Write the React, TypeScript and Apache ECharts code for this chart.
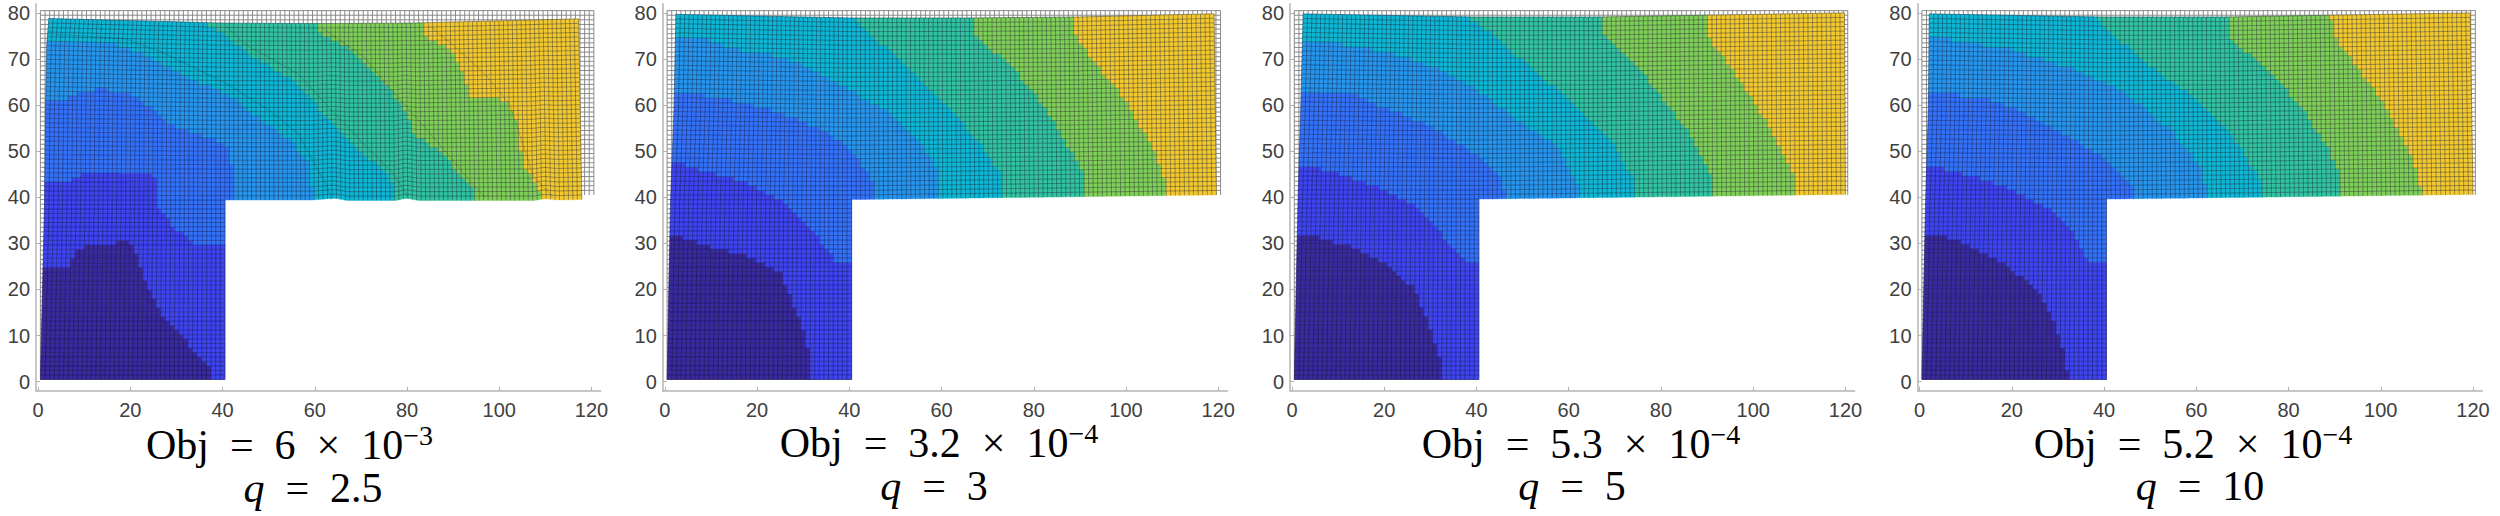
import React, { useEffect, useRef } from "react";
import * as echarts from "echarts";

type P = number[][];

const xTicks = [0, 20, 40, 60, 80, 100, 120];
const yTicks = [0, 10, 20, 30, 40, 50, 60, 70, 80];
const bandColors = ["#3a2aa0", "#3e44f2", "#3272fb", "#2596ee", "#0db8d4", "#30c4a0", "#80d058", "#f2ca30"];

const objLabels = ["Obj  =  6  ×  10", "Obj  =  3.2  ×  10", "Obj  =  5.3  ×  10", "Obj  =  5.2  ×  10"];
const expLabels = ["−3", "−4", "−4", "−4"];
const qLabels = ["  =  2.5", "  =  3", "  =  5", "  =  10"];

// contour boundaries (lower-left side of each), one list per level
const q25Bounds: P[] = [
  [[-5, 24.6], [6.6, 24.6], [8.8, 29.1], [14.6, 29.6], [19.6, 30.9], [21.4, 27.1], [23.6, 20.6], [26.3, 15.5], [31.2, 9.8], [37.5, 2.9], [38, 0]],
  [[-5, 43.1], [6.1, 43.1], [9.2, 45], [16.9, 45.5], [24.1, 45.5], [25.9, 43.7], [26.3, 37.9], [29.4, 33.6], [33.9, 30.1], [45, 30]],
  [[-5, 60.8], [5.2, 61.1], [8.8, 62.5], [13.3, 63.6], [18.7, 62.9], [25.9, 58.9], [27.6, 56], [34.8, 53.8], [41.6, 50.9], [42.7, 39.4]],
  [[-5, 74.2], [12.4, 74.1], [17.8, 73], [22.3, 71.2], [31.2, 66.5], [42, 61.8], [45.6, 58.9], [54.6, 52.4], [59.1, 47.3], [59.5, 39.4]],
  [[35.7, 90], [35.7, 78], [40.2, 75.5], [45.6, 71.2], [56.4, 64.7], [61.8, 58.2], [68, 51.7], [76.6, 44.4], [77.5, 39.4]],
  [[60.4, 90], [60.9, 75.5], [66.2, 73.3], [70.7, 69], [76.1, 63.9], [80.2, 58.2], [81.5, 53.8], [86.9, 50.2], [94.1, 42.3], [95, 39.4]],
  [[83.5, 90], [83.8, 75.1], [86.9, 73.7], [90.5, 70.4], [92.3, 66.8], [93.6, 62.1], [101.3, 61.1], [104.4, 55.3], [104.8, 47.3], [108.4, 42.3], [109.5, 39.4]],
];
const q3Bounds: P[] = [
  [[-5, 32.5], [3.8, 31.4], [10, 29.3], [18.1, 27.1], [25.3, 23.5], [27.6, 17.7], [29.8, 11.9], [31.6, 5.4], [31.8, 0]],
  [[-5, 48.2], [4.7, 47], [12.7, 44.4], [17.2, 43.7], [26.2, 38.7], [31.6, 33.6], [37, 26], [45, 26]],
  [[-5, 64.1], [6.5, 62.5], [13.6, 61.1], [20.8, 59.6], [26.2, 57.8], [35.2, 54.2], [40.6, 50.2], [45.1, 43.7], [45.8, 39.5]],
  [[-5, 75.1], [8.3, 74.4], [16.3, 71.9], [26.2, 70.4], [37, 65], [47.8, 58.9], [54.9, 52.4], [59.4, 45.9], [59.6, 39.5]],
  [[41.5, 90], [41.5, 78.9], [45.1, 74.8], [53.1, 68.3], [60.3, 60.3], [67.5, 53.1], [72.9, 45.2], [73.3, 39.7]],
  [[66.6, 90], [67.5, 74.8], [74.7, 69], [80.1, 62.5], [85.5, 54.6], [90.4, 45.9], [91, 40.1]],
  [[88.9, 90], [89, 75.1], [93.5, 69], [99.8, 61.1], [106.1, 50.2], [108.3, 44.4], [108.8, 40.5]],
];
const q5Bounds: P[] = [
  [[-5, 32.5], [5.3, 31.4], [12.1, 29.6], [20.5, 25.7], [26.9, 19.9], [29.8, 11.9], [32.3, 4.7], [32.6, 0]],
  [[-5, 48], [7.9, 45.9], [18.8, 42.3], [27.3, 37.9], [32.3, 32.2], [37.4, 26], [45, 26]],
  [[-5, 62.9], [13.8, 62.5], [20.5, 59.2], [29, 56], [40.8, 48.8], [45, 44.4], [46.9, 39.7]],
  [[-5, 74.8], [7, 73.7], [18.8, 71.9], [29, 69], [38.3, 64.7], [49.2, 56.7], [57.7, 50.9], [61.9, 43], [62.3, 39.7]],
  [[38.3, 90], [38.3, 79], [42.5, 76.2], [49.2, 70.4], [61.1, 60.3], [69.5, 52.4], [74.6, 43], [74.8, 40.1]],
  [[66, 90], [67.8, 74.8], [74.6, 69], [81.3, 60.3], [87.2, 52.4], [91, 44.4], [91.5, 40.5]],
  [[89.1, 90], [89.8, 75.5], [95.7, 67.6], [100.8, 59.6], [105, 52.4], [108.4, 45.9], [109.2, 40.8]],
];
const q10Bounds: P[] = [
  [[-5, 32.5], [7.9, 31.1], [17.2, 26.4], [24.8, 20.6], [28.2, 15.5], [30.7, 9], [32.4, 0]],
  [[-5, 47.3], [7.1, 45.9], [18.9, 42.3], [27.4, 37.9], [32.4, 33.6], [36.7, 26], [45, 26]],
  [[-5, 63.1], [13.9, 61.8], [21.5, 58.9], [29.9, 54.6], [40.9, 48], [46.4, 42.3], [46.6, 39.7]],
  [[-5, 75.9], [7.1, 74.1], [20.6, 71.9], [34.1, 67.6], [44.3, 62.9], [54.4, 54.6], [61.1, 46.6], [62.4, 40.1]],
  [[38.2, 90], [38.2, 79], [40.9, 76.2], [49.3, 69], [59.5, 61.8], [67.9, 53.1], [74.2, 43.7], [74.5, 40.1]],
  [[65.5, 90], [67.1, 74.8], [75.5, 67.6], [82.3, 60.3], [89, 50.2], [91.1, 44.4], [91.4, 40.5]],
  [[89, 90], [89.4, 75.5], [94.9, 68.3], [101.7, 58.9], [106.8, 48.8], [108.9, 40.8]],
];

// dark creases in the most distorted mesh (q = 2.5)
const q25Creases: P[] = [
  [[2.1, 75.5], [18.7, 74.4], [26.8, 71.5], [40.2, 65], [50.1, 58.9], [56.4, 53.8], [62.7, 42.3], [63.6, 39.4]],
  [[40.7, 77.3], [44.7, 73.3], [56.4, 66.8], [63.6, 58.9], [69.8, 52.4], [77, 45.2], [80.2, 40.1]],
  [[61.8, 76.6], [70.7, 70.4], [77.9, 61.8], [85.1, 53.8], [94.1, 43], [96.8, 40.1]],
  [[85.1, 77], [90.5, 72.6], [96.8, 66.8], [102.2, 60.3], [104.8, 52.4], [107.5, 44.4], [111.6, 40.1]],
];

// edge shifts of the deformed mesh: [mesh position, shift]
const q25Left: P = [[0, 0], [40, 0.9], [60, 1.1], [75, 1.4], [80, 1.8]];
const q25Right: P = [[40, -2.6], [80, -3.3]];
const q25Top: P = [[0, -1.7], [40, -2.7], [60, -2.8], [83, -2.7], [120, -1.8]];
const q25Bottom: P = [[0, -1.1], [60, -1.1], [65, -0.7], [68, -1.2], [79, -1.2], [81, -0.7], [84, -1.2], [110, -1.2], [112, -0.8], [115, -1.1], [120, -1]];
const q3Left: P = [[0, 0], [40, 0.75], [60, 1.5], [80, 1.9]];
const q3Right: P = [[40, -0.9], [80, -1.4]];
const q3Top: P = [[0, -0.8], [40, -1.6], [66, -1.6], [90, -1.4], [120, -0.7]];
const q3Bottom: P = [[0, -1], [40, -1], [80, -0.5], [120, 0]];
const q5Left: P = [[0, 0], [40, 0.8], [60, 1.4], [80, 1.9]];
const q5Right: P = [[40, -0.5], [80, -0.7]];
const q5Top: P = [[0, -0.7], [40, -1.4], [66, -1.4], [90, -1], [120, -0.5]];
const q5Bottom: P = [[0, -0.9], [40, -0.9], [120, 0.1]];
const q10Left: P = [[0, 0], [40, 0.8], [60, 1.4], [80, 1.6]];
const q10Right: P = [[40, -0.5], [80, -1.1]];
const q10Top: P = [[0, -0.7], [40, -1.4], [66, -1.4], [90, -1], [120, -0.5]];
const q10Bottom: P = [[0, -0.9], [40, -0.9], [120, 0.1]];

const contours = [q25Bounds, q3Bounds, q5Bounds, q10Bounds];
const creases: P[][] = [q25Creases, [], [], []];
const edges = [
  { left: q25Left, right: q25Right, top: q25Top, bottom: q25Bottom },
  { left: q3Left, right: q3Right, top: q3Top, bottom: q3Bottom },
  { left: q5Left, right: q5Right, top: q5Top, bottom: q5Bottom },
  { left: q10Left, right: q10Right, top: q10Top, bottom: q10Bottom },
];

// layout
const x0px = [38.1, 664.8, 1292, 1919.6];
const UX = 4.612;
const titleLayout = [
  { cx: 289.5, y1: 457, cq: 313, y2: 500 },
  { cx: 939, y1: 455, cq: 934, y2: 498 },
  { cx: 1581, y1: 456, cq: 1572, y2: 498 },
  { cx: 2193, y1: 456, cq: 2200, y2: 498 },
];

const pl = (pts: P, t: number) => {
  if (t <= pts[0][0]) return pts[0][1];
  for (let i = 1; i < pts.length; i++) {
    if (t <= pts[i][0]) {
      const a = pts[i - 1], b = pts[i];
      return a[1] + ((b[1] - a[1]) * (t - a[0])) / (b[0] - a[0]);
    }
  }
  return pts[pts.length - 1][1];
};

const inside = (poly: P, x: number, y: number) => {
  let c = false;
  for (let i = 0, j = poly.length - 1; i < poly.length; j = i++) {
    const a = poly[i], b = poly[j];
    if (a[1] > y !== b[1] > y && x < ((b[0] - a[0]) * (y - a[1])) / (b[1] - a[1]) + a[0]) c = !c;
  }
  return c;
};

const place = (e: typeof edges[0], u: number, v: number) => {
  const left = pl(e.left, v);
  const right = pl(e.right, v);
  let dx = 0, dy = 0;
  if (u <= 40.5) dx = left * (1 - (u - 0.5) / 40);
  else dx = v >= 40.5 ? (right * (u - 40.5)) / 80 : 0;
  if (v >= 40.5) {
    const t = (v - 40.5) / 40;
    dy = pl(e.bottom, u) * (1 - t) + pl(e.top, u) * t;
  } else {
    dy = (pl(e.bottom, u) * (v - 0.5)) / 40;
  }
  return [u + dx, v + dy];
};

function buildPanel(p: number) {
  const e = edges[p];
  const polys = contours[p].map((b) => {
    const first = b[0], last = b[b.length - 1];
    return [...b, [last[0], -5], [-5, -5], [-5, first[1]]];
  });
  const runs: any[] = [];
  const ghost: any[] = [];
  for (let j = 0; j < 80; j++) {
    const n = j < 40 ? 40 : 120;
    let start = 0, cur = -1;
    for (let i = 0; i <= n; i++) {
      let band = -2;
      if (i < n) {
        const c = place(e, i + 1, j + 1);
        band = polys.findIndex((q) => inside(q, c[0], c[1]));
        if (band < 0) band = 7;
      }
      if (band !== cur) {
        if (cur >= 0) {
          const pts: number[][] = [];
          for (let k = start; k <= i; k++) pts.push(place(e, k + 0.5, j + 0.5));
          for (let k = i; k >= start; k--) pts.push(place(e, k + 0.5, j + 1.5));
          runs.push({ value: [start, j, i, cur], pts, band: cur });
        }
        start = i;
        cur = band;
      }
    }
  }
  const meshLines: any[] = [];
  for (let j = 0; j <= 80; j++) {
    const n = j <= 40 ? 40 : 120;
    const pts: number[][] = [];
    for (let i = 0; i <= n; i++) pts.push(place(e, i + 0.5, j + 0.5));
    meshLines.push({ value: [0, j], pts });
    ghost.push({ value: [0, j], pts: [[0.5, j + 0.5], [n + 0.5, j + 0.5]] });
  }
  for (let i = 0; i <= 120; i++) {
    const from = i <= 40 ? 0 : 40;
    const pts: number[][] = [];
    for (let j = from; j <= 80; j++) pts.push(place(e, i + 0.5, j + 0.5));
    meshLines.push({ value: [i, 0], pts });
    ghost.push({ value: [i, 0], pts: [[i + 0.5, from + 0.5], [i + 0.5, 80.5]] });
  }
  return { runs, meshLines, ghost };
}

export default function App() {
  const ref = useRef<HTMLDivElement>(null);
  useEffect(() => {
    const chart = echarts.init(ref.current!, undefined, { renderer: "svg" });
    const grids: any[] = [], xAxes: any[] = [], yAxes: any[] = [], series: any[] = [], graphic: any[] = [];
    const axisBase = {
      axisLine: { show: true, onZero: false, lineStyle: { color: "#b4b4b4", width: 1.5 } },
      axisTick: { show: true, inside: true, length: 4, lineStyle: { color: "#b4b4b4", width: 1 } },
      splitLine: { show: false },
    };
    const labelBase = { color: "#404040", fontFamily: "Liberation Sans", fontSize: 20 };
    x0px.forEach((x0, p) => {
      grids.push({ left: x0 - 0.43 * UX, width: 122.43 * UX, top: 3.7, height: 387.2, containLabel: false });
      xAxes.push({
        ...axisBase, type: "value", gridIndex: p, min: -0.43, max: 122,
        axisTick: { ...axisBase.axisTick, customValues: xTicks },
        axisLabel: { ...labelBase, margin: 9, customValues: xTicks },
      });
      yAxes.push({
        ...axisBase, type: "value", gridIndex: p, min: -2, max: 82,
        axisTick: { ...axisBase.axisTick, customValues: yTicks },
        axisLabel: { ...labelBase, margin: 6, customValues: yTicks },
      });
      const { runs, meshLines, ghost } = buildPanel(p);
      const base = { type: "custom", xAxisIndex: p, yAxisIndex: p, clip: false, silent: true, animation: false, encode: { x: 0, y: 1 } };
      const poly = (items: any[], stroke: string, w: number) => (params: any, api: any) => ({
        type: "polyline",
        silent: true,
        shape: { points: items[params.dataIndex].pts.map((q: number[]) => api.coord(q)) },
        style: { stroke, fill: null, lineWidth: w },
      });
      series.push({
        ...base, data: ghost.map((g) => ({ value: g.value })),
        renderItem: poly(ghost, "#7e7e7e", 0.9),
      });
      series.push({
        ...base, data: runs.map((r) => ({ value: r.value })),
        renderItem: (params: any, api: any) => {
          const r = runs[params.dataIndex];
          const c = bandColors[r.band];
          return {
            type: "polygon", silent: true,
            shape: { points: r.pts.map((q: number[]) => api.coord(q)) },
            style: { fill: c, stroke: c, lineWidth: 0.4 },
          };
        },
      });
      series.push({
        ...base, data: meshLines.map((g) => ({ value: g.value })),
        renderItem: poly(meshLines, "rgba(10,10,40,0.45)", 0.8),
      });
      if (creases[p].length) {
        const cr = creases[p].map((pts) => ({ pts, value: pts[0] }));
        series.push({
          ...base, data: cr.map((g) => ({ value: g.value })),
          renderItem: poly(cr, "rgba(10,30,40,0.22)", 0.9),
        });
      }
      const t = titleLayout[p];
      graphic.push({
        type: "text", silent: true, x: t.cx, y: t.y1 - 36,
        style: {
          text: `{a|${objLabels[p]}}{s|${expLabels[p]}}`,
          align: "center", verticalAlign: "top",
          rich: {
            a: { fontFamily: "Liberation Serif", fontSize: 42, lineHeight: 48, fill: "#000" },
            s: { fontFamily: "Liberation Serif", fontSize: 28, lineHeight: 24, fill: "#000", verticalAlign: "top" },
          },
        },
      });
      graphic.push({
        type: "text", silent: true, x: t.cq, y: t.y2 - 36,
        style: {
          text: `{i|q}{a|${qLabels[p]}}`,
          align: "center", verticalAlign: "top",
          rich: {
            i: { fontFamily: "Liberation Serif", fontStyle: "italic", fontSize: 42, lineHeight: 48, fill: "#000" },
            a: { fontFamily: "Liberation Serif", fontSize: 42, lineHeight: 48, fill: "#000" },
          },
        },
      });
    });
    chart.setOption({ animation: false, grid: grids, xAxis: xAxes, yAxis: yAxes, series, graphic, backgroundColor: "#fff" });
    return () => chart.dispose();
  }, []);
  return <div ref={ref} style={{ position: "fixed", left: 0, top: 0, width: 2500, height: 516 }} />;
}
